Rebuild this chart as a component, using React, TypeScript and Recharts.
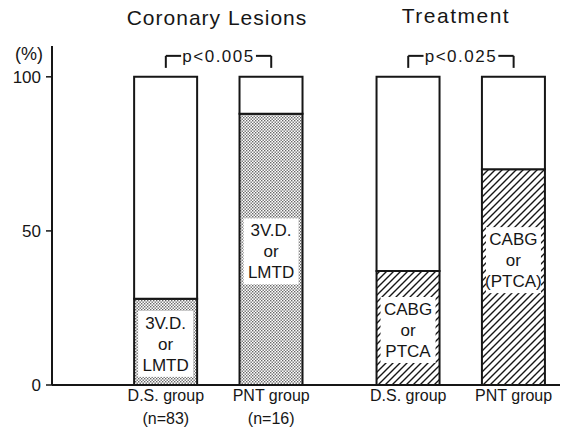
import React from "react";
import { BarChart, Bar, XAxis, YAxis, Cell, LabelList, ReferenceLine } from "recharts";

const categories = ["D.S. group\n(n=83)", "PNT group\n(n=16)", "D.S. group", "PNT group"];
const xPositions = [1, 2, 3.3, 4.3];
const lowerValues = [28, 88, 37, 70];
const labelLines = [
  ["3V.D.", "or", "LMTD"],
  ["3V.D.", "or", "LMTD"],
  ["CABG", "or", "PTCA"],
  ["CABG", "or", "(PTCA)"],
];
const patternIds = ["stipple", "stipple", "hatch", "hatch"];
const yTicks = [0, 50, 100];
const brackets = [
  { from: 1, to: 2, text: "p<0.005" },
  { from: 3.3, to: 4.3, text: "p<0.025" },
];
const titles = ["Coronary Lesions", "Treatment"];

const rows = categories.map((c, i) => ({
  x: xPositions[i],
  name: c,
  lower: lowerValues[i],
  upper: 100 - lowerValues[i],
}));

const FONT = "'Liberation Sans', Arial, sans-serif";
const INK = "#161616";

const XTick = (props: any) => {
  const { x, y, payload } = props;
  const idx = xPositions.indexOf(payload.value);
  if (idx < 0) return null;
  const lines = categories[idx].split("\n");
  return (
    <g>
      {lines.map((l, k) => (
        <text key={k} x={x} y={y + 16 + k * 23} textAnchor="middle" fontSize={16} fill={INK} fontFamily={FONT}>
          {l}
        </text>
      ))}
    </g>
  );
};

const BarLabel = (props: any) => {
  const vb = props.viewBox || props;
  const x = Number(vb.x), y = Number(vb.y), w = Number(vb.width), h = Number(vb.height);
  const idx = props.index;
  if (idx == null || isNaN(x)) return null;
  const lines = labelLines[idx];
  const shift = idx === 3 ? -17 : 2;
  const cy = y + h / 2 + shift;
  const lh = 21;
  const boxH = 66;
  return (
    <g>
      <rect x={x + 4} y={cy - boxH / 2} width={w - 8} height={boxH} fill="#fff" />
      {lines.map((l, k) => (
        <text key={k} x={x + w / 2} y={cy + (k - 1) * lh + 6} textAnchor="middle" fontSize={17} fill={INK} fontFamily={FONT}>
          {l}
        </text>
      ))}
    </g>
  );
};

const yTop = 106.8;
const yBottom = 102.9;
const arm = 0.145;

export default function App() {
  return (
    <div style={{ position: "absolute", left: 0, top: 0, width: 567, height: 430, background: "#fff" }}>
      <svg width={0} height={0} style={{ position: "absolute" }}>
        <defs>
          <pattern id="stipple" patternUnits="userSpaceOnUse" width={3} height={3}>
            <rect width={3} height={3} fill="#fff" />
            <rect x={0} y={0} width={1.4} height={1.4} fill="#666" />
            <rect x={1.5} y={1.5} width={1.4} height={1.4} fill="#666" />
          </pattern>
          <pattern id="hatch" patternUnits="userSpaceOnUse" width={7} height={7}>
            <rect width={7} height={7} fill="#fff" />
            <path d="M0,7 L7,0 M-2,2 L2,-2 M5,9 L9,5" stroke={INK} strokeWidth={1.4} />
          </pattern>
        </defs>
      </svg>
      <BarChart
        width={567}
        height={430}
        data={rows}
        margin={{ top: 46, right: 7, bottom: 5, left: 0 }}
        barSize={63}
      >
        <XAxis
          dataKey="x"
          type="number"
          domain={[-0.08, 4.74]}
          ticks={xPositions}
          interval={0}
          allowDataOverflow
          tick={<XTick />}
          tickLine={false}
          tickSize={0}
          tickMargin={0}
          axisLine={{ stroke: INK, strokeWidth: 2 }}
          height={40}
        />
        <YAxis
          domain={[0, 110]}
          ticks={yTicks}
          width={52}
          tickSize={6}
          tickMargin={5}
          axisLine={{ stroke: INK, strokeWidth: 2 }}
          tickLine={{ stroke: INK, strokeWidth: 1.5 }}
          tick={{ fill: INK, fontSize: 17, fontFamily: FONT }}
        />
        <Bar dataKey="lower" stackId="a" stroke={INK} strokeWidth={2} isAnimationActive={false}>
          {rows.map((r, i) => (
            <Cell key={i} fill={`url(#${patternIds[i]})`} />
          ))}
          <LabelList dataKey="lower" content={<BarLabel />} />
        </Bar>
        <Bar dataKey="upper" stackId="a" fill="#fff" stroke={INK} strokeWidth={2} isAnimationActive={false} />
        {brackets.map((b, i) => [
          <ReferenceLine key={`a${i}`} ifOverflow="visible" stroke={INK} strokeWidth={2}
            segment={[{ x: b.from, y: yBottom }, { x: b.from, y: yTop }]} />,
          <ReferenceLine key={`b${i}`} ifOverflow="visible" stroke={INK} strokeWidth={2}
            segment={[{ x: b.from, y: yTop }, { x: b.from + arm, y: yTop }]} />,
          <ReferenceLine key={`c${i}`} ifOverflow="visible" stroke={INK} strokeWidth={2}
            segment={[{ x: b.to - arm, y: yTop }, { x: b.to, y: yTop }]} />,
          <ReferenceLine key={`d${i}`} ifOverflow="visible" stroke={INK} strokeWidth={2}
            segment={[{ x: b.to, y: yTop }, { x: b.to, y: yBottom }]} />,
          <ReferenceLine key={`e${i}`} ifOverflow="visible" stroke="none"
            segment={[{ x: b.from + arm, y: yTop }, { x: b.to - arm, y: yTop }]}
            label={(p: any) => {
              const vb = p.viewBox || {};
              return (
                <text x={vb.x + vb.width / 2} y={vb.y + 6} textAnchor="middle" fontSize={17}
                  letterSpacing={1.5} fill={INK} fontFamily={FONT}>
                  {b.text}
                </text>
              );
            }} />,
        ])}
      </BarChart>
      <svg width={567} height={430} style={{ position: "absolute", left: 0, top: 0, pointerEvents: "none" }}>
        <text x={217} y={25} textAnchor="middle" fontSize={21} letterSpacing={1} fill={INK} fontFamily={FONT}>
          {titles[0]}
        </text>
        <text x={456} y={23} textAnchor="middle" fontSize={21} letterSpacing={1.5} fill={INK} fontFamily={FONT}>
          {titles[1]}
        </text>
        <text x={29} y={60} textAnchor="middle" fontSize={18} fill={INK} fontFamily={FONT}>
          (%)
        </text>
      </svg>
    </div>
  );
}
